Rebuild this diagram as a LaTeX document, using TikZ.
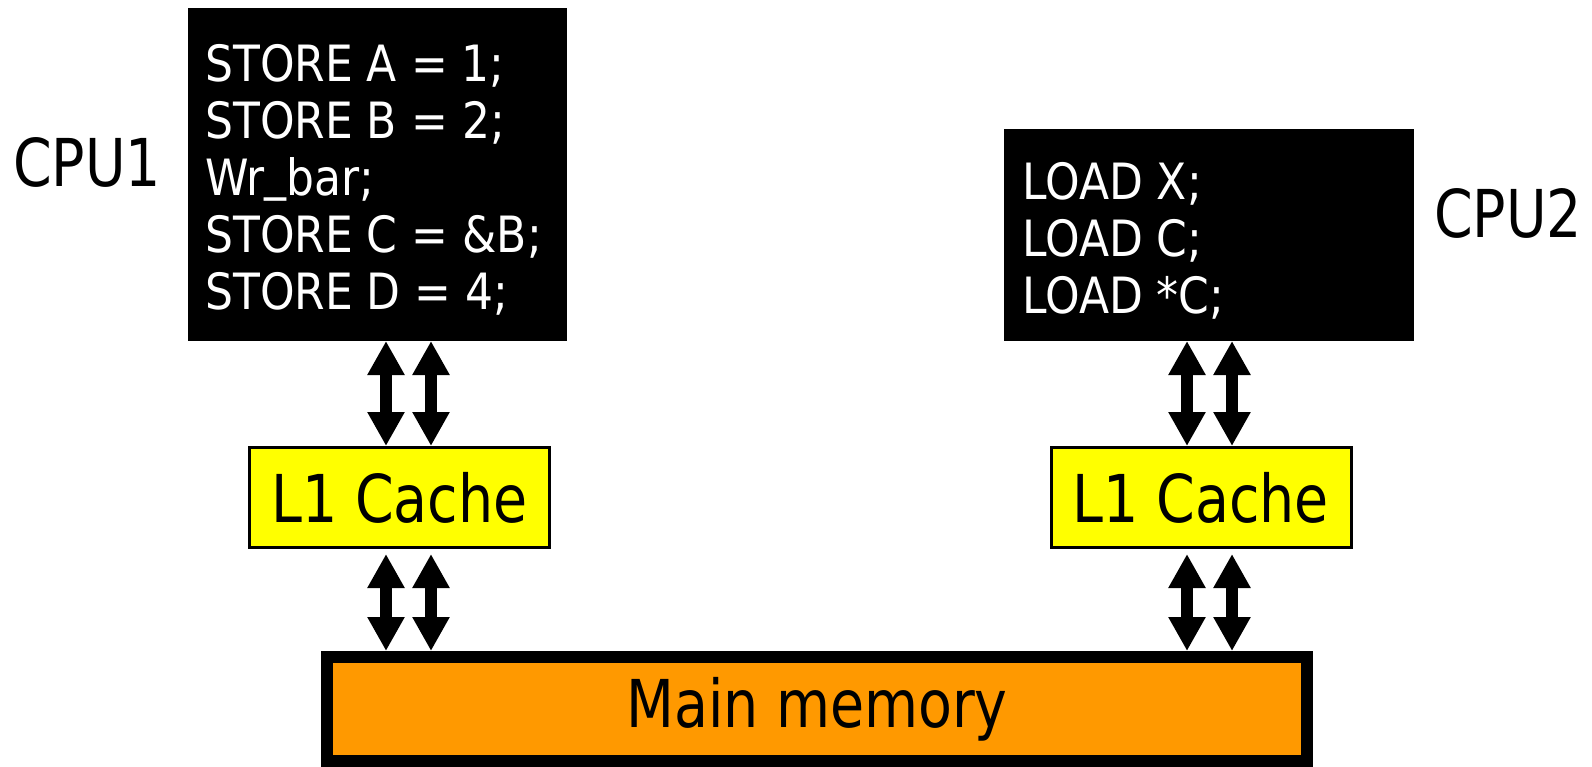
\documentclass[tikz,border=0pt]{standalone}
\usepackage{fontspec}
\setmainfont{DejaVu Sans}[FakeStretch=0.84]
\newfontfamily\codefont{DejaVu Sans}[FakeStretch=0.88]
\usetikzlibrary{arrows.meta}
\definecolor{memorange}{HTML}{FF9900}
\definecolor{cacheyellow}{HTML}{FFFF00}
\tikzset{
  cpubox/.style={fill=black, draw=none, inner sep=0pt, outer sep=0pt},
  code/.style={text=white, anchor=north west, inner sep=0pt, align=left,
               font=\codefont\fontsize{50}{57}\selectfont},
  label/.style={text=black, inner sep=0pt, font=\fontsize{66}{70}\selectfont},
  cachebox/.style={fill=cacheyellow, draw=black, line width=3pt,
                   minimum width=300pt, minimum height=100pt, inner sep=0pt,
                   font=\fontsize{66}{70}\selectfont},
  membox/.style={fill=memorange, draw=black, line width=12pt,
                 minimum width=980pt, minimum height=104pt, inner sep=0pt,
                 font=\fontsize{66}{70}\selectfont},
  biarrow/.style={line width=12pt, draw=black,
                  {Triangle[width=35pt,length=34pt]}-{Triangle[width=35pt,length=34pt]}}
}
\begin{document}
\begin{tikzpicture}[x=1pt,y=-1pt]
\useasboundingbox (0,0) rectangle (1592,767);
% CPU boxes
\node[cpubox, minimum width=379pt, minimum height=333pt] (cpu1) at (377.5,174.5) {};
\node[cpubox, minimum width=410pt, minimum height=212pt] (cpu2) at (1209,235) {};
\node[code] (code1) at (205,44) {STORE A = 1;\\STORE B = 2;\\Wr\raisebox{0.12em}{\_}bar;\\STORE C = \&B;\\STORE D = 4;};
\node[code] (code2) at (1022,162) {LOAD X;\\LOAD C;\\LOAD *C;};
\node[label] (lab1) at (87,162) {CPU1};
\node[label] (lab2) at (1508,213) {CPU2};
% caches
\node[cachebox] (l1a) at (399.5,497.5) {L1 Cache};
\node[cachebox] (l1b) at (1201,497.5) {L1 Cache};
% memory
\node[membox] (mem) at (817,709) {Main memory};
% arrows CPU1 <-> L1
\draw[biarrow] ([xshift=-13.5pt]l1a.north |- cpu1.south) -- ([xshift=-13.5pt]l1a.north);
\draw[biarrow] ([xshift=31.5pt]l1a.north |- cpu1.south) -- ([xshift=31.5pt]l1a.north);
\draw[biarrow] ([xshift=-13.5pt,yshift=-5pt]l1a.south) -- ([xshift=-13.5pt]l1a.south |- mem.north);
\draw[biarrow] ([xshift=31.5pt,yshift=-5pt]l1a.south) -- ([xshift=31.5pt]l1a.south |- mem.north);
% arrows CPU2 <-> L1
\draw[biarrow] ([xshift=-14pt]l1b.north |- cpu2.south) -- ([xshift=-14pt]l1b.north);
\draw[biarrow] ([xshift=31pt]l1b.north |- cpu2.south) -- ([xshift=31pt]l1b.north);
\draw[biarrow] ([xshift=-14pt,yshift=-5pt]l1b.south) -- ([xshift=-14pt]l1b.south |- mem.north);
\draw[biarrow] ([xshift=31pt,yshift=-5pt]l1b.south) -- ([xshift=31pt]l1b.south |- mem.north);
\end{tikzpicture}
\end{document}
